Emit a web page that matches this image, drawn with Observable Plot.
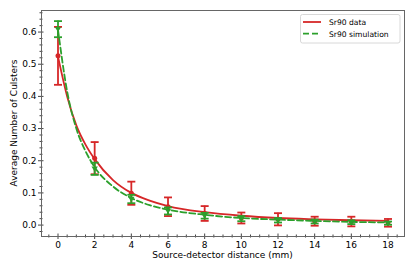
<!DOCTYPE html>
<html>
<head>
<meta charset="utf-8">
<script src="https://cdn.jsdelivr.net/npm/d3@7"></script>
<script src="https://cdn.jsdelivr.net/npm/@observablehq/plot@0.6"></script>
<style>
  html, body { margin: 0; padding: 0; background: #fff; }
  svg { font-family: "DejaVu Sans", sans-serif; }
</style>
</head>
<body>
<div id="chart"></div>
<script>
// ---- data ----
const distances = [0, 2, 4, 6, 8, 10, 12, 14, 16, 18];
const dataMean = [0.526, 0.208, 0.099, 0.057, 0.036, 0.022, 0.018, 0.012, 0.011, 0.007];
const dataErr  = [0.090, 0.050, 0.036, 0.029, 0.023, 0.017, 0.019, 0.014, 0.015, 0.012];
const simMean  = [0.609, 0.175, 0.081, 0.044, 0.029, 0.020, 0.015, 0.011, 0.009, 0.006];
const simErr   = [0.025, 0.019, 0.013, 0.011, 0.009, 0.008, 0.007, 0.006, 0.006, 0.005];

const curveX     = [0, 0.5, 1, 1.5, 2, 3, 4, 5, 6, 8, 10, 12, 14, 16, 18];
const dataCurveY = [0.524, 0.400, 0.310, 0.250, 0.205, 0.140, 0.100, 0.076, 0.059, 0.040, 0.029, 0.022, 0.018, 0.015, 0.013];
const simCurveY  = [0.607, 0.415, 0.300, 0.230, 0.180, 0.120, 0.084, 0.062, 0.048, 0.032, 0.022, 0.017, 0.013, 0.010, 0.008];

const xTicks = [0, 2, 4, 6, 8, 10, 12, 14, 16, 18];
const yTicks = [0.0, 0.1, 0.2, 0.3, 0.4, 0.5, 0.6];
const xLabel = "Source-detector distance (mm)";
const yLabel = "Average Number of Culsters";
const seriesNames = ["Sr90 data", "Sr90 simulation"];
const colors = ["#d62728", "#2ca02c"];

// ---- derived tables ----
const pts = (means, errs) => distances.map((x, i) => ({x, y: means[i], lo: means[i] - errs[i], hi: means[i] + errs[i]}));
const dataPts = pts(dataMean, dataErr);
const simPts = pts(simMean, simErr);
const dataCurve = curveX.map((x, i) => ({x, y: dataCurveY[i]}));
const simCurve = curveX.map((x, i) => ({x, y: simCurveY[i]}));

const xMinor = d3.range(-0.5, 18.6, 0.5).filter(v => Math.abs(v % 2) > 1e-9);
const yMinor = d3.range(-2, 67, 2).map(v => v / 100).filter(v => Math.abs((v * 100) % 10) > 1e-6);

const W = 415, H = 272, mL = 41, mR = 11, mT = 10, mB = 36;
const innerW = W - mL - mR, innerH = H - mT - mB;

const cap = {draw(ctx, size) { const w = Math.sqrt(size / Math.PI); ctx.moveTo(-w, 0); ctx.lineTo(w, 0); }};
const triDown = {draw(ctx, size) { const r = Math.sqrt(size / Math.PI); ctx.moveTo(-r, -r * 0.7); ctx.lineTo(r, -r * 0.7); ctx.lineTo(0, r * 0.9); ctx.closePath(); }};

const tickColor = "#444";

const plot = Plot.plot({
  width: W, height: H,
  marginLeft: mL, marginRight: mR, marginTop: mT, marginBottom: mB,
  style: {fontSize: "9px", fontFamily: "DejaVu Sans, sans-serif", color: "#000", background: "#fff"},
  x: {domain: [-0.9, 18.9]},
  y: {domain: [-0.0355, 0.667]},
  marks: [
    // axes: major (in-out) and minor ticks
    Plot.axisX(xTicks, {tickSize: 3, tickPadding: 2, label: null, stroke: tickColor, fontSize: 9}),
    Plot.axisX(xMinor, {tickSize: 1.5, tickFormat: () => "", label: null, stroke: tickColor}),
    Plot.axisY(yTicks, {tickSize: 3, tickPadding: 2, tickFormat: d3.format(".1f"), label: null, stroke: tickColor, fontSize: 9}),
    Plot.axisY(yMinor, {tickSize: 1.5, tickFormat: () => "", label: null, stroke: tickColor}),
    Plot.tickX(xTicks, {x: d => d, insetTop: innerH - 2.5, stroke: tickColor}),
    Plot.tickX(xMinor, {x: d => d, insetTop: innerH - 1.5, stroke: tickColor}),
    Plot.tickY(yTicks, {y: d => d, insetRight: innerW - 2.5, stroke: tickColor}),
    Plot.tickY(yMinor, {y: d => d, insetRight: innerW - 1.5, stroke: tickColor}),

    // data series
    Plot.line(dataCurve, {x: "x", y: "y", stroke: colors[0], strokeWidth: 1.8, curve: "monotone-x"}),
    Plot.ruleX(dataPts, {x: "x", y1: "lo", y2: "hi", stroke: colors[0], strokeWidth: 1.8}),
    Plot.dot(dataPts, {x: "x", y: "lo", symbol: cap, r: 4, stroke: colors[0], strokeWidth: 1.8, fill: "none"}),
    Plot.dot(dataPts, {x: "x", y: "hi", symbol: cap, r: 4, stroke: colors[0], strokeWidth: 1.8, fill: "none"}),
    Plot.dot(dataPts, {x: "x", y: "y", r: 2.5, fill: colors[0], stroke: "none"}),

    // simulation series
    Plot.line(simCurve, {x: "x", y: "y", stroke: colors[1], strokeWidth: 1.8, strokeDasharray: "6,3", curve: "monotone-x"}),
    Plot.ruleX(simPts, {x: "x", y1: "lo", y2: "hi", stroke: colors[1], strokeWidth: 1.8}),
    Plot.dot(simPts, {x: "x", y: "lo", symbol: cap, r: 4, stroke: colors[1], strokeWidth: 1.8, fill: "none"}),
    Plot.dot(simPts, {x: "x", y: "hi", symbol: cap, r: 4, stroke: colors[1], strokeWidth: 1.8, fill: "none"}),
    Plot.dot(simPts, {x: "x", y: "y", symbol: triDown, r: 3.2, fill: colors[1], stroke: "none"}),

    Plot.frame({stroke: "#666", strokeWidth: 1})
  ]
});

document.getElementById("chart").appendChild(plot);

// axis titles and legend
const svg = d3.select(plot);
svg.append("text")
  .attr("x", mL + innerW / 2).attr("y", 258)
  .attr("text-anchor", "middle").attr("font-size", 9).attr("fill", "#000")
  .text(xLabel);
svg.append("text")
  .attr("transform", `translate(17,${mT + innerH / 2}) rotate(-90)`)
  .attr("text-anchor", "middle").attr("font-size", 9).attr("fill", "#000")
  .text(yLabel);

const lg = svg.append("g").attr("text-anchor", "start");
lg.append("rect").attr("x", 300.5).attr("y", 14.5).attr("width", 99.5).attr("height", 28.5)
  .attr("rx", 2).attr("fill", "#fff").attr("fill-opacity", 0.85).attr("stroke", "#d8d8d8").attr("stroke-width", 1);
seriesNames.forEach((name, i) => {
  const y = 22 + i * 11.7;
  lg.append("line").attr("x1", 303).attr("x2", 321).attr("y1", y).attr("y2", y)
    .attr("stroke", colors[i]).attr("stroke-width", 1.8)
    .attr("stroke-dasharray", i === 1 ? "6,3" : null);
  lg.append("text").attr("x", 329).attr("y", y + 2.8).attr("text-anchor", "start")
    .attr("font-size", 7.6).attr("fill", "#000").text(name);
});
</script>
</body>
</html>
